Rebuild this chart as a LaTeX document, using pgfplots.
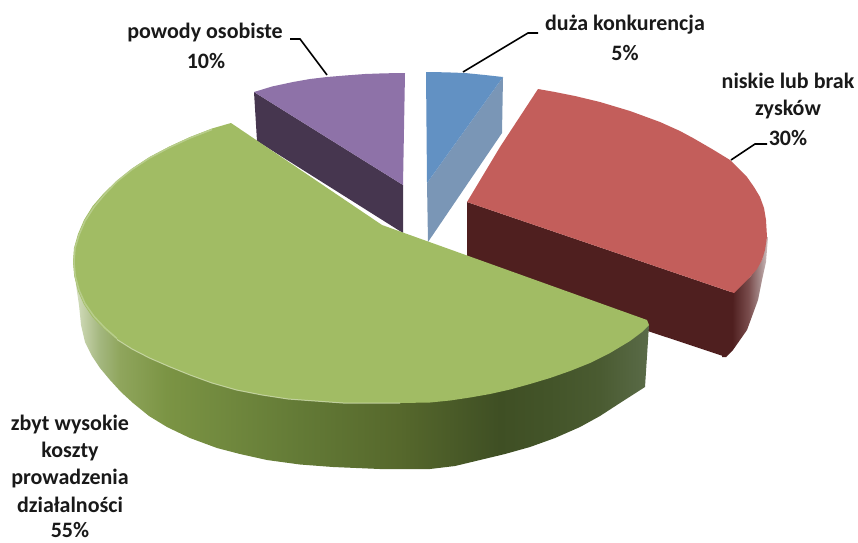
\documentclass[border=0pt]{standalone}
\usepackage{fontspec}
\setmainfont{Carlito}
\usepackage{pgfplots}
\pgfplotsset{compat=1.18}
\definecolor{gs0}{HTML}{DAE3C8}\definecolor{gs1}{HTML}{C2CFA6}\definecolor{gs2}{HTML}{A4B77F}
\definecolor{gs3}{HTML}{8FA55C}\definecolor{gs4}{HTML}{7B9444}\definecolor{gs5}{HTML}{637A36}
\definecolor{gs6}{HTML}{56682C}\definecolor{gs7}{HTML}{3F4F24}\definecolor{gs8}{HTML}{435429}
\definecolor{gs9}{HTML}{4A5B31}\definecolor{gs10}{HTML}{5A6B48}
\definecolor{rs0}{HTML}{4F1F1F}\definecolor{rs1}{HTML}{7A4D4D}\definecolor{rs2}{HTML}{A58A8A}\definecolor{rs3}{HTML}{D0C0C0}
\definecolor{gtop}{HTML}{A1BC64}\definecolor{rtop}{HTML}{C35E5B}\definecolor{ptop}{HTML}{8E72A8}
\definecolor{pside}{HTML}{46364F}\definecolor{btop}{HTML}{6291C3}\definecolor{bside}{HTML}{7A96B6}
\definecolor{rdark}{HTML}{4F1F1F}
\pgfdeclarehorizontalshading{greenside}{100bp}{
 color(0bp)=(gs0); color(25bp)=(gs0); color(26bp)=(gs1); color(27.3bp)=(gs2); color(29.1bp)=(gs3);
 color(33.1bp)=(gs4); color(44.7bp)=(gs5); color(53.3bp)=(gs6); color(62bp)=(gs7); color(66.3bp)=(gs8);
 color(70.7bp)=(gs9); color(75bp)=(gs10); color(100bp)=(gs10)}
\pgfdeclarehorizontalshading{redside}{100bp}{
 color(0bp)=(rs0); color(36bp)=(rs0); color(54bp)=(rs1); color(66bp)=(rs2); color(75bp)=(rs3); color(100bp)=(rs3)}
\begin{document}
\begin{tikzpicture}
\begin{axis}[
  hide axis, scale only axis, width=858pt, height=542pt,
  xmin=0, xmax=858, ymin=0, ymax=542, y dir=reverse, clip=false,
  every axis plot/.append style={forget plot}]
\addplot[draw=none] coordinates {(0,0)(858,542)};
% purple
\addplot[fill=pside, draw=none] coordinates {(254,92)(403,185)(403,233)(257,141)} --cycle;
\addplot[fill=ptop, draw=none] coordinates {(254,92)(272,86.5)(293,82)(310,79)(327,77)(345,75.5)(365,74)(385,73.3)(405,73)(403,185)} --cycle;
% blue
\addplot[fill=bside, draw=none] coordinates {(503,77)(502,133)(428,242)(427,183)} --cycle;
\addplot[fill=btop, draw=none] coordinates {(426,72)(445,72.3)(465,73)(485,75)(503,77)(427,183)} --cycle;
% red
\addplot[shading=redside, draw=none] coordinates {(730,293)(750,277)(762,260)(767,237)(768,237)(766,262)(762,280)(758,300)(747,330)(733,350)(726,357)(722,357)} --cycle;
\addplot[fill=rdark, draw=none] coordinates {(467,202)(734,293)(726,357)(467,271)} --cycle;
\addplot[fill=rtop, draw=none] coordinates {(467,202)(500,147)(538,89)(555,92)(575,96)(600,102)(630,111)(660,122)(680,131)(693,138)(712,149)(730,160)(747,177)(754,187)(760,197)(764,208)(766,220)(767,237)(765,250)(762,260)(757,269)(750,277)(742,285)(734,293)} --cycle;
% green
\addplot[shading=greenside, draw=none] coordinates {(73,262)(75,270)(76,285)(79,305)(81,325)(85,342)(92,356)(100,368)(110,380)(121,392)(133,403)(149,416)(167,427)(190,438)(217,448)(240,454)(267,460)(300,464.5)(333,467)(380,469)(430,469)(455,466)(480,460)(505,454)(530,447)(555,438)(580,427)(600,416)(620,403)(645,387)(649,325)(600,340)(400,380)(200,370)} --cycle;
\addplot[fill=gtop, draw=none] coordinates {(382,225)(231,123)(212,128.5)(190,137)(169,146.7)(149.5,157)(132,168.5)(117,180.5)(104,193)(92.7,206)(84,220)(78,234)(74,248)(73,262)(74.2,276)(78,291)(84,304.5)(92.7,317.4)(104,329)(117,339.5)(132,349)(149.5,358)(169,366.5)(190,375)(212,383)(236.5,390)(262,395)(288,399)(315,401)(343,403)(400,403)(430,402.5)(450,400.5)(470,397.5)(490,394)(510,389.5)(530,384)(550,378)(570,371)(590,363)(610,353)(630,341)(642,332)(649,325)(647,320)} --cycle;
\addplot[color=white!50!gtop, opacity=.8, line width=1pt] coordinates {(117,339.5)(132,349)(149.5,358)(169,366.5)(190,375)(212,383)(236.5,390)(262,395)(288,399)(315,401)(343,403)(400,403)};
\addplot[color=white!25!gtop, line width=1.5pt] coordinates {(212,129.5)(190,138)(169,147.7)(149.5,158)(132,169.5)(117,181.5)(105,194)(94,207)(85,221)(79,235)(75,248)(74,262)(75.2,276)(79,290)(85,303.5)(94,316.4)(105,328)(117,338.5)};
% leaders
\addplot[black, line width=1.6pt] coordinates {(290,39)(300,39)(327,75)};
\addplot[black, line width=1.6pt] coordinates {(538,33)(528,33)(463,72)};
\addplot[black, line width=1.6pt] coordinates {(767,144)(755,144)(731,160)};
% labels
\tikzset{lab/.style={font=\fontsize{22}{26}\selectfont\bfseries, text=black!90, inner sep=0pt, anchor=center}}
\node[lab] at (axis cs:205,33) {powody osobiste};
\node[lab] at (axis cs:206,61) {10\%};
\node[lab] at (axis cs:625,25) {duża konkurencja};
\node[lab] at (axis cs:625,53) {5\%};
\node[lab] at (axis cs:788,81) {niskie lub brak};
\node[lab] at (axis cs:788,110) {zysków};
\node[lab] at (axis cs:788,138) {30\%};
\node[lab] at (axis cs:70,424) {zbyt wysokie};
\node[lab] at (axis cs:70,451) {koszty};
\node[lab] at (axis cs:70,478) {prowadzenia};
\node[lab] at (axis cs:70,505) {działalności};
\node[lab] at (axis cs:70,530) {55\%};
\end{axis}
\end{tikzpicture}
\end{document}
